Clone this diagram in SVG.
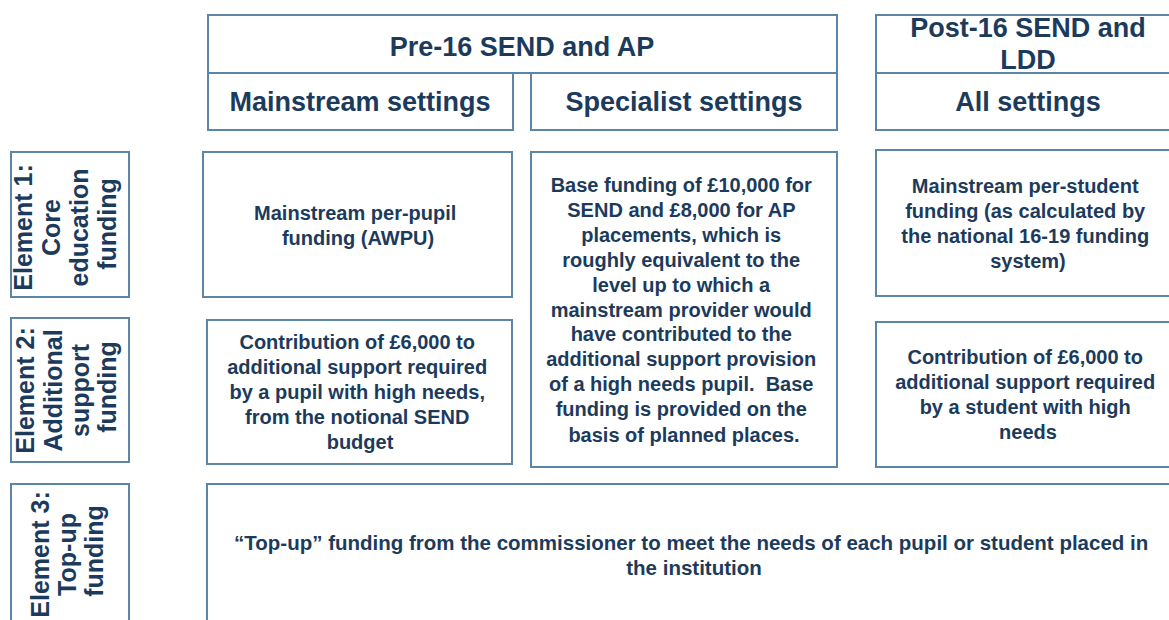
<svg xmlns="http://www.w3.org/2000/svg" width="1169" height="620" viewBox="0 0 1169 620">
<style>
.box{fill:#ffffff;stroke:#5b86a8;stroke-width:2}
.hd{font-family:"Liberation Sans",Arial,sans-serif;font-weight:bold;font-size:27px;fill:#1c3b5c;text-anchor:middle}
.tx{font-family:"Liberation Sans",Arial,sans-serif;font-weight:bold;font-size:20px;fill:#1c3b5c;text-anchor:middle}
.vl{font-family:"Liberation Sans",Arial,sans-serif;font-weight:bold;font-size:25px;fill:#1c3b5c;text-anchor:middle}
</style>
<rect width="1169" height="620" fill="#ffffff"/>
<g id="connectors"></g>

<g id="pre16-header">
<rect class="box" x="208" y="15" width="629" height="58"/>
<text class="hd" x="522" y="56">Pre-16 SEND and AP</text>
</g>
<g id="mainstream-header">
<rect class="box" x="208" y="73" width="305" height="57"/>
<text class="hd" x="360" y="111">Mainstream settings</text>
</g>
<g id="specialist-header">
<rect class="box" x="531" y="73" width="306" height="57"/>
<text class="hd" x="684" y="111">Specialist settings</text>
</g>
<g id="post16-header">
<rect class="box" x="876" y="15" width="310" height="58"/>
<text class="hd" x="1028" y="37">Post-16 SEND and</text>
<text class="hd" x="1028" y="69">LDD</text>
</g>
<g id="all-settings-header">
<rect class="box" x="876" y="73" width="310" height="57"/>
<text class="hd" x="1028" y="111">All settings</text>
</g>

<g id="element1-label">
<rect class="box" x="11" y="152" width="118" height="145"/>
<text class="vl" transform="translate(0,224) rotate(-90)">
<tspan x="0" y="32">Element 1:</tspan>
<tspan x="0" y="60">Core</tspan>
<tspan x="0" y="88">education</tspan>
<tspan x="0" y="116">funding</tspan>
</text>
</g>
<g id="element2-label">
<rect class="box" x="11" y="318" width="118" height="144"/>
<text class="vl" transform="translate(0,387) rotate(-90)">
<tspan x="0" y="34">Element 2:</tspan>
<tspan x="0" y="62">Additional</tspan>
<tspan x="0" y="89">support</tspan>
<tspan x="0" y="116">funding</tspan>
</text>
</g>
<g id="element3-label">
<rect class="box" x="11" y="484" width="118" height="150"/>
<text class="vl" transform="translate(0,551) rotate(-90)">
<tspan x="0" y="49">Element 3:</tspan>
<tspan x="0" y="76">Top-up</tspan>
<tspan x="0" y="103">funding</tspan>
</text>
</g>

<g id="mainstream-core">
<rect class="box" x="203" y="152" width="309" height="145"/>
<text class="tx">
<tspan x="358" y="220">Mainstream per-pupil</tspan>
<tspan x="358" y="245">funding (AWPU)</tspan>
</text>
</g>
<g id="mainstream-additional">
<rect class="box" x="207" y="320" width="305" height="144"/>
<text class="tx">
<tspan x="360" y="349">Contribution of £6,000 to</tspan>
<tspan x="360" y="374">additional support required</tspan>
<tspan x="360" y="399">by a pupil with high needs,</tspan>
<tspan x="360" y="424">from the notional SEND</tspan>
<tspan x="360" y="449">budget</tspan>
</text>
</g>
<g id="specialist-base">
<rect class="box" x="531" y="152" width="306" height="315"/>
<text class="tx">
<tspan x="684" y="192">Base funding of £10,000 for</tspan>
<tspan x="684" y="217">SEND and £8,000 for AP</tspan>
<tspan x="684" y="242">placements, which is</tspan>
<tspan x="684" y="267">roughly equivalent to the</tspan>
<tspan x="684" y="292">level up to which a</tspan>
<tspan x="684" y="317">mainstream provider would</tspan>
<tspan x="684" y="341">have contributed to the</tspan>
<tspan x="684" y="366">additional support provision</tspan>
<tspan x="684" y="391" xml:space="preserve">of a high needs pupil.  Base</tspan>
<tspan x="684" y="416">funding is provided on the</tspan>
<tspan x="684" y="442">basis of planned places.</tspan>
</text>
</g>
<g id="post16-core">
<rect class="box" x="876" y="150" width="310" height="146"/>
<text class="tx">
<tspan x="1028" y="193">Mainstream per-student</tspan>
<tspan x="1028" y="218">funding (as calculated by</tspan>
<tspan x="1028" y="243">the national 16-19 funding</tspan>
<tspan x="1028" y="268">system)</tspan>
</text>
</g>
<g id="post16-additional">
<rect class="box" x="876" y="322" width="310" height="145"/>
<text class="tx">
<tspan x="1028" y="364">Contribution of £6,000 to</tspan>
<tspan x="1028" y="389">additional support required</tspan>
<tspan x="1028" y="414">by a student with high</tspan>
<tspan x="1028" y="439">needs</tspan>
</text>
</g>
<g id="topup">
<rect class="box" x="207" y="484" width="980" height="150"/>
<text class="tx" style="font-size:20.5px">
<tspan x="694" y="550">“Top-up” funding from the commissioner to meet the needs of each pupil or student placed in</tspan>
<tspan x="694" y="575">the institution</tspan>
</text>
</g>
</svg>
